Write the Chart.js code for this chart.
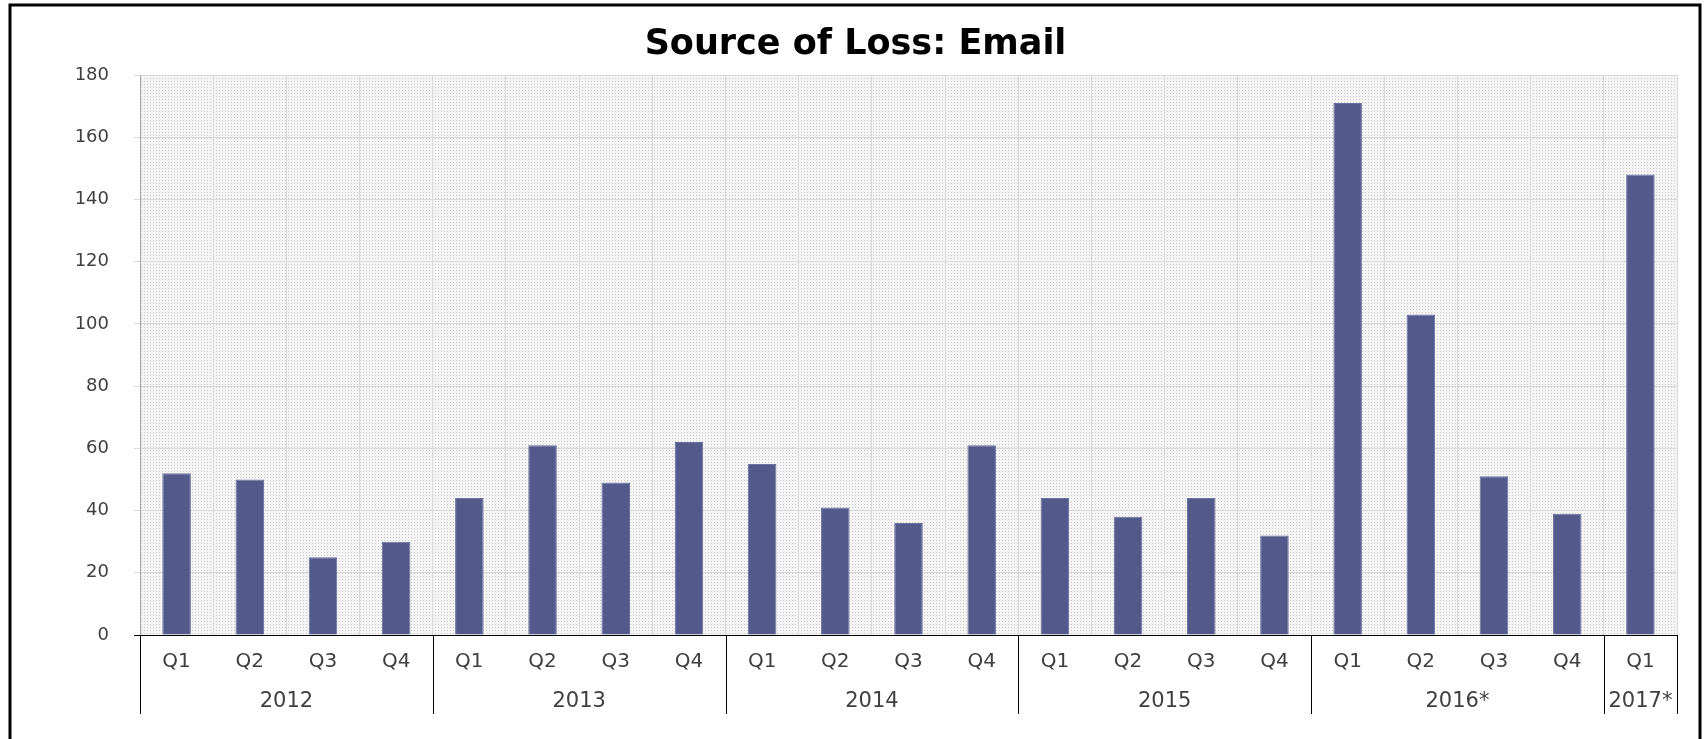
<!DOCTYPE html>
<html>
<head>
<meta charset="utf-8">
<script src="https://cdn.jsdelivr.net/npm/chart.js@4/dist/chart.umd.min.js"></script>
<style>
  html, body { margin: 0; padding: 0; background: #fff; }
  canvas { display: block; }
</style>
</head>
<body>
<canvas id="c" width="1704" height="739"></canvas>
<script>
// data
var quarters = ['Q1','Q2','Q3','Q4', 'Q1','Q2','Q3','Q4', 'Q1','Q2','Q3','Q4',
                'Q1','Q2','Q3','Q4', 'Q1','Q2','Q3','Q4', 'Q1'];
var years = ['2012','2012','2012','2012', '2013','2013','2013','2013',
             '2014','2014','2014','2014', '2015','2015','2015','2015',
             '2016*','2016*','2016*','2016*', '2017*'];
var losses = [52, 50, 25, 30, 44, 61, 49, 62, 55, 41, 36, 61,
              44, 38, 44, 32, 171, 103, 51, 39, 148];
var yTicks = [0, 20, 40, 60, 80, 100, 120, 140, 160, 180];

var FONT = '"DejaVu Sans", sans-serif';

// dotted fill behind the plot area
function makePattern() {
    var p = document.createElement('canvas');
    p.width = 3; p.height = 3;
    var g = p.getContext('2d');
    g.fillStyle = '#f4f4f4';
    g.fillRect(0, 0, 3, 3);
    g.fillStyle = '#cdcdcd';
    g.fillRect(0, 0, 1, 1);
    return g.createPattern(p, 'repeat');
}

var plotBg = {
    id: 'plotBg',
    beforeDraw: function(chart) {
        var a = chart.chartArea, ctx = chart.ctx;
        ctx.save();
        ctx.fillStyle = makePattern();
        ctx.fillRect(a.left, a.top, a.right - a.left, a.bottom - a.top);
        ctx.restore();
    }
};

// year row, group separators and outer frame
var yearAxis = {
    id: 'yearAxis',
    afterDraw: function(chart) {
        var ctx = chart.ctx, x = chart.scales.x, y = chart.scales.y;
        var step = x.width / quarters.length;
        var bottom = 714;
        ctx.save();
        ctx.strokeStyle = '#000';
        ctx.lineWidth = 1;
        ctx.fillStyle = '#404040';
        ctx.font = '21px ' + FONT;
        ctx.textAlign = 'center';
        ctx.textBaseline = 'middle';
        var start = 0;
        for (var i = 1; i <= years.length; i++) {
            if (i === years.length || years[i] !== years[start]) {
                var l = x.getPixelForValue(start) - step / 2;
                var r = x.getPixelForValue(i - 1) + step / 2;
                ctx.fillText(years[start], (l + r) / 2, 702);
                [l, r].forEach(function(px) {
                    px = Math.round(px) + 0.5;
                    ctx.beginPath();
                    ctx.moveTo(px, y.bottom);
                    ctx.lineTo(px, bottom);
                    ctx.stroke();
                });
                start = i;
            }
        }
        // frame
        ctx.lineWidth = 3;
        ctx.beginPath();
        ctx.moveTo(10, 739);
        ctx.lineTo(10, 5);
        ctx.lineTo(1700, 5);
        ctx.lineTo(1700, 739);
        ctx.stroke();
        ctx.restore();
    }
};

var chart = new Chart(document.getElementById('c').getContext('2d'), {
    type: 'bar',
    data: {
        labels: quarters,
        datasets: [{
            label: 'Email',
            data: losses,
            backgroundColor: '#53598b',
            borderColor: '#6b71a0',
            borderWidth: 1,
            categoryPercentage: 1,
            barPercentage: 0.39
        }]
    },
    options: {
        responsive: false,
        animation: false,
        layout: { padding: { left: 34, right: 27, top: 0, bottom: 25 } },
        plugins: {
            legend: { display: false },
            tooltip: { enabled: false },
            title: {
                display: true,
                text: 'Source of Loss: Email',
                color: '#000',
                font: { family: FONT, size: 35, weight: 'bold', lineHeight: 1.2 },
                padding: { top: 24, bottom: 9 }
            }
        },
        scales: {
            x: {
                grid: { color: '#d9d9d9', drawTicks: false, offset: true },
                border: { color: '#000', width: 1 },
                ticks: { color: '#404040', font: { family: FONT, size: 20 }, padding: 15, maxRotation: 0 },
                afterFit: function(s) { s.height = 79; }
            },
            y: {
                min: 0,
                max: 180,
                afterBuildTicks: function(s) {
                    s.ticks = yTicks.map(function(v) { return { value: v }; });
                },
                grid: {
                    color: function(c) { return c.tick && c.tick.value === 0 ? '#000' : '#d9d9d9'; },
                    tickLength: 6
                },
                border: { color: '#a6a6a6' },
                ticks: { color: '#404040', font: { family: FONT, size: 18 }, padding: 25 },
                afterFit: function(s) { s.width = 106; }
            }
        }
    },
    plugins: [plotBg, yearAxis]
});
</script>
</body>
</html>
